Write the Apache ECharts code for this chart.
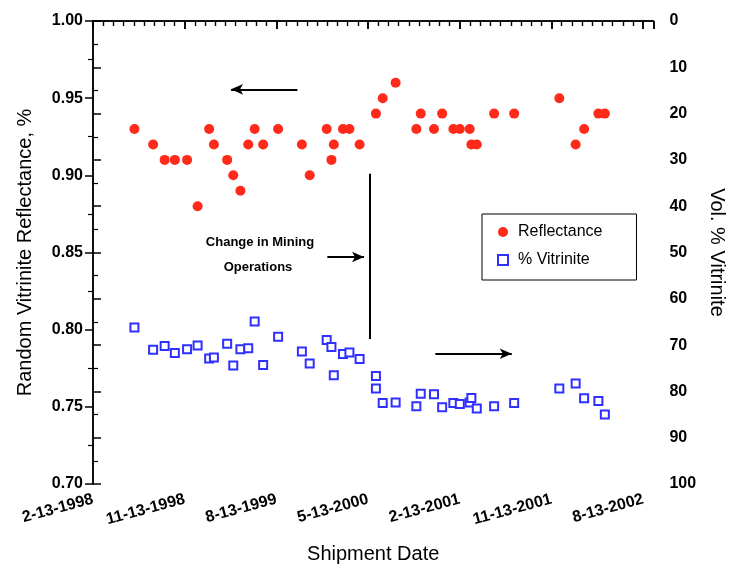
<!DOCTYPE html>
<html>
<head>
<meta charset="utf-8">
<script src="https://cdn.jsdelivr.net/npm/echarts@6/dist/echarts.min.js"></script>
<style>
  html, body { margin: 0; padding: 0; background: #fff; }
  #chart { width: 735px; height: 569px; }
</style>
</head>
<body>
<div id="chart"></div>
<script>
// shipment dates (one per sample, two samples on 2000-06-06)
var shipDates = [
  '1998-06-15', '1998-08-10', '1998-09-14', '1998-10-14', '1998-11-20', '1998-12-21',
  '1999-01-25', '1999-02-09', '1999-03-18', '1999-04-06', '1999-04-27', '1999-05-20',
  '1999-06-09', '1999-07-04', '1999-08-18', '1999-10-28', '1999-11-21', '2000-01-11',
  '2000-01-25', '2000-02-02', '2000-02-29', '2000-03-18', '2000-04-18', '2000-06-06',
  '2000-06-06', '2000-06-26', '2000-08-04', '2000-10-05', '2000-10-18', '2000-11-27',
  '2000-12-21', '2001-01-24', '2001-02-13', '2001-03-12', '2001-03-17', '2001-04-03',
  '2001-05-24', '2001-07-23', '2001-12-06', '2002-01-24', '2002-02-19', '2002-04-01',
  '2002-04-20'
];
// random vitrinite reflectance, %
var reflectance = [
  0.93, 0.92, 0.91, 0.91, 0.91, 0.88,
  0.93, 0.92, 0.91, 0.90, 0.89, 0.92,
  0.93, 0.92, 0.93, 0.92, 0.90, 0.93,
  0.91, 0.92, 0.93, 0.93, 0.92, 0.94,
  null, 0.95, 0.96, 0.93, 0.94, 0.93,
  0.94, 0.93, 0.93, 0.93, 0.92, 0.92,
  0.94, 0.94, 0.95, 0.92, 0.93, 0.94,
  0.94
];
// vol. % vitrinite
var vitrinite = [
  66.2, 71.0, 70.2, 71.7, 70.9, 70.1,
  72.9, 72.7, 69.7, 74.4, 70.9, 70.7,
  64.9, 74.3, 68.2, 71.4, 74.0, 68.9,
  70.4, 76.5, 71.9, 71.6, 73.0, 76.7,
  79.4, 82.5, 82.4, 83.2, 80.5, 80.6,
  83.4, 82.5, 82.7, 82.4, 81.4, 83.7,
  83.2, 82.5, 79.4, 78.3, 81.5, 82.1,
  85.0
];
var tickLabels = ['2-13-1998', '11-13-1998', '8-13-1999', '5-13-2000', '2-13-2001', '11-13-2001', '8-13-2002'];

// months after 2-13-1998
function toMonths(s) {
  var p = s.split('-').map(Number);
  return (p[0] - 1998) * 12 + (p[1] - 2) + (p[2] - 13) / 30;
}

var reflData = [], vitData = [];
shipDates.forEach(function (d, i) {
  var m = toMonths(d);
  if (reflectance[i] != null) reflData.push([m, reflectance[i]]);
  if (vitrinite[i] != null) vitData.push([m, vitrinite[i]]);
});

var tickFont = { fontFamily: 'Liberation Sans', fontWeight: 'bold', fontSize: 16, color: '#000' };
var nameFont = { fontFamily: 'Liberation Sans', fontSize: 20, color: '#000' };
var lineBlack = { color: '#000', width: 1.5 };
var noteFont = { fontFamily: 'Liberation Sans', fontWeight: 'bold', fontSize: 13, fill: '#000', align: 'center', verticalAlign: 'middle' };

var xBase = {
  type: 'value', min: 0, max: 55, interval: 9,
  axisLine: { lineStyle: lineBlack },
  axisTick: { length: 8, lineStyle: lineBlack },
  minorTick: { show: true, splitNumber: 9, length: 5, lineStyle: { color: '#000', width: 1.2 } },
  splitLine: { show: false }
};

var chart = echarts.init(document.getElementById('chart'));
chart.setOption({
  animation: false,
  grid: { left: 93, right: 72, top: 21, bottom: 81 },
  legend: {
    orient: 'vertical', left: 482, top: 214,
    padding: [10, 34, 12, 15],
    itemWidth: 10, itemHeight: 10, itemGap: 12,
    borderColor: '#000', borderWidth: 1,
    textStyle: { fontFamily: 'Liberation Sans', fontSize: 16, color: '#000', padding: [0, 0, 0, 5] },
    data: ['Reflectance', '% Vitrinite']
  },
  xAxis: [
    Object.assign({}, xBase, {
      position: 'bottom',
      name: 'Shipment Date', nameLocation: 'middle', nameGap: 60,
      nameTextStyle: nameFont,
      axisLabel: Object.assign({}, tickFont, {
        rotate: 15, margin: 15, showMaxLabel: true,
        formatter: function (v) { return v % 9 === 0 ? tickLabels[v / 9] : ''; }
      })
    }),
    Object.assign({}, xBase, {
      position: 'top',
      axisTick: { inside: true, length: 8, lineStyle: lineBlack },
      axisLabel: { show: false }
    })
  ],
  yAxis: [
    {
      type: 'value', position: 'left', min: 0.70, max: 1.00, interval: 0.05,
      name: 'Random Vitrinite Reflectance, %', nameLocation: 'middle', nameGap: 58,
      nameTextStyle: nameFont,
      axisLine: { show: true, lineStyle: lineBlack },
      axisTick: { show: true, length: 8, lineStyle: lineBlack },
      minorTick: { show: true, splitNumber: 2, length: 5, lineStyle: { color: '#000', width: 1.2 } },
      splitLine: { show: false },
      axisLabel: Object.assign({}, tickFont, {
        margin: 10,
        formatter: function (v) { return v.toFixed(2); }
      })
    },
    {
      type: 'value', position: 'right', min: 0, max: 100, interval: 10, inverse: true,
      name: 'Vol. % Vitrinite', nameLocation: 'middle', nameGap: 38, nameRotate: -90,
      nameTextStyle: nameFont,
      axisLine: { show: true, lineStyle: lineBlack },
      axisTick: { show: true, length: 8, lineStyle: lineBlack },
      minorTick: { show: true, splitNumber: 2, length: 5, lineStyle: { color: '#000', width: 1.2 } },
      splitLine: { show: false },
      axisLabel: Object.assign({}, tickFont, { margin: 16 })
    }
  ],
  series: [
    {
      name: 'Reflectance', type: 'scatter', xAxisIndex: 0, yAxisIndex: 0,
      symbol: 'circle', symbolSize: 10,
      itemStyle: { color: '#ff2a1a', opacity: 1 },
      data: reflData,
      markLine: {
        silent: true, animation: false,
        symbol: ['none', 'arrow'], symbolSize: [8, 12],
        label: { show: false },
        lineStyle: { color: '#000', width: 2, type: 'solid' },
        data: [
          [{ coord: [20.06, 0.9557] }, { coord: [13.55, 0.9557] }],
          [{ coord: [23.0, 0.8471] }, { coord: [26.6, 0.8471] }],
          [{ coord: [33.6, 0.7844] }, { coord: [41.1, 0.7844] }],
          [{ coord: [27.2, 0.901], symbol: 'none' }, { coord: [27.2, 0.794], symbol: 'none' }]
        ]
      }
    },
    {
      name: '% Vitrinite', type: 'scatter', xAxisIndex: 0, yAxisIndex: 1,
      symbol: 'rect', symbolSize: 8,
      itemStyle: { color: '#fff', borderColor: '#2f2fff', borderWidth: 2, opacity: 1 },
      data: vitData
    }
  ],
  graphic: [
    { type: 'text', x: 260, y: 242, style: Object.assign({ text: 'Change in Mining' }, noteFont) },
    { type: 'text', x: 258, y: 267, style: Object.assign({ text: 'Operations' }, noteFont) }
  ]
});
</script>
</body>
</html>
